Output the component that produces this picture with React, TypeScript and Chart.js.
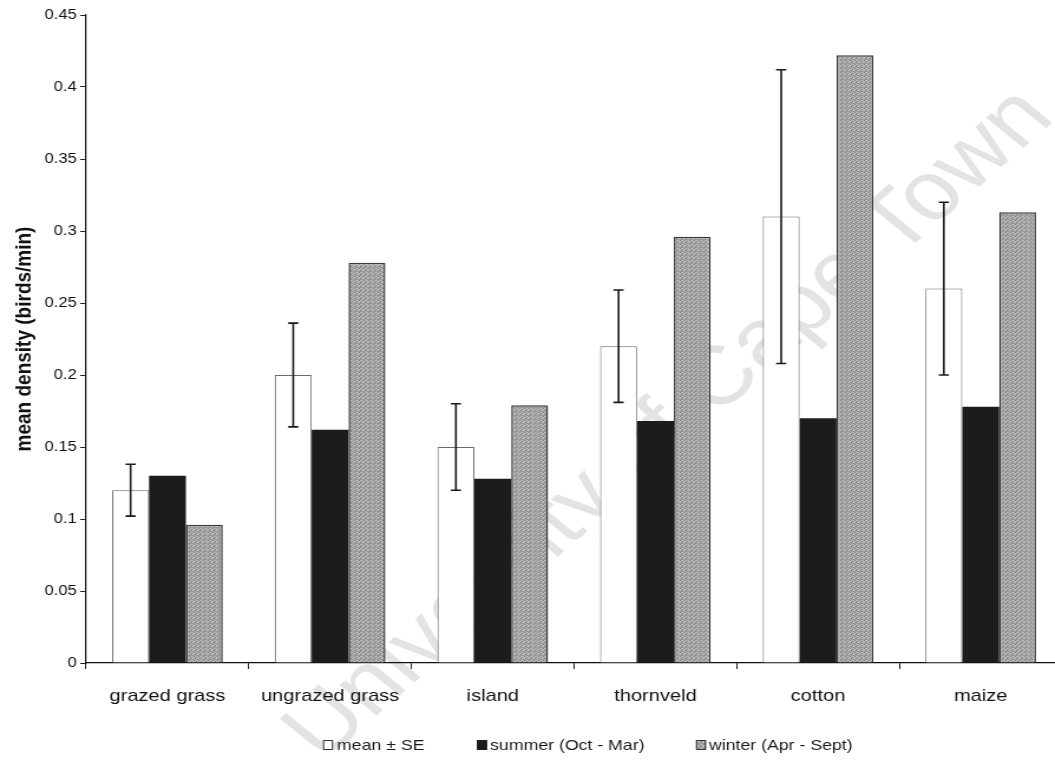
import { useEffect, useRef } from "react";
import { Chart, registerables } from "chart.js";

Chart.register(...registerables);

// Habitat categories along the x axis
const categories = ["grazed grass", "ungrazed grass", "island", "thornveld", "cotton", "maize"];

// Mean density (birds/min) with its standard error
const meanDensity = [0.12, 0.2, 0.15, 0.22, 0.31, 0.26];
const meanSE = [0.018, 0.036, 0.03, 0.039, 0.102, 0.06];

// Seasonal densities (birds/min)
const summerDensity = [0.13, 0.162, 0.128, 0.168, 0.17, 0.178];
const winterDensity = [0.096, 0.278, 0.179, 0.296, 0.422, 0.313];

const seriesLabels = ["mean \u00b1 SE", "summer (Oct - Mar)", "winter (Apr - Sept)"];
const yAxisTitle = "mean density (birds/min)";
const watermarkText = "University of Cape Town";

const yMin = 0;
const yMax = 0.45;
const yStep = 0.05;

// The figure is rendered narrow and widened with CSS, like a horizontally stretched print.
const X_STRETCH = 1.18;
const CSS_W = 1075;
const CSS_H = 762;
const CANVAS_W = Math.round(CSS_W / X_STRETCH);
const FONT = "'Liberation Sans', Arial, Helvetica, sans-serif";

function makeWinterPattern(ctx: CanvasRenderingContext2D): CanvasPattern | string {
  const pc = document.createElement("canvas");
  pc.width = 4;
  pc.height = 4;
  const p = pc.getContext("2d");
  if (!p) return "#a4a4a4";
  p.fillStyle = "#b6b6b6";
  p.fillRect(0, 0, 4, 4);
  p.fillStyle = "#7a7a7a";
  p.fillRect(0, 0, 1, 1);
  p.fillRect(2, 1, 1, 1);
  p.fillRect(1, 2, 1, 1);
  p.fillRect(3, 3, 1, 1);
  p.fillStyle = "#9a9a9a";
  p.fillRect(0, 3, 4, 1);
  return ctx.createPattern(pc, "repeat") || "#a4a4a4";
}

export default function App() {
  const canvasRef = useRef<HTMLCanvasElement | null>(null);

  useEffect(() => {
    const canvas = canvasRef.current;
    if (!canvas) return;
    const ctx = canvas.getContext("2d");
    if (!ctx) return;
    const winterFill = makeWinterPattern(ctx);

    // Faint repository watermark behind everything
    const watermark = {
      id: "watermark",
      beforeDraw(chart: any) {
        const c = chart.ctx;
        c.save();
        c.translate(568, 425);
        c.rotate((-46 * Math.PI) / 180);
        c.fillStyle = "#e3e3e3";
        c.font = `83px ${FONT}`;
        c.textAlign = "center";
        c.textBaseline = "middle";
        c.fillText(watermarkText, 0, 0);
        c.restore();
      },
    };

    // Standard-error whiskers on the mean bars
    const errorBars = {
      id: "errorBars",
      afterDatasetsDraw(chart: any) {
        const c = chart.ctx;
        const y = chart.scales.y;
        const meta = chart.getDatasetMeta(0);
        c.save();
        c.strokeStyle = "#1a1a1a";
        c.lineWidth = 1.6;
        meta.data.forEach((bar: any, i: number) => {
          const hi = y.getPixelForValue(meanDensity[i] + meanSE[i]);
          const lo = y.getPixelForValue(meanDensity[i] - meanSE[i]);
          const x = bar.x;
          const cap = 4.3;
          c.beginPath();
          c.moveTo(x, hi);
          c.lineTo(x, lo);
          c.moveTo(x - cap, hi);
          c.lineTo(x + cap, hi);
          c.moveTo(x - cap, lo);
          c.lineTo(x + cap, lo);
          c.stroke();
        });
        c.restore();
      },
    };

    // Legend row under the axis labels
    const legendRow = {
      id: "legendRow",
      afterDraw(chart: any) {
        const c = chart.ctx;
        const items = [
          { box: 273.7, text: 285.6, fill: "#ffffff", stroke: "#333333" },
          { box: 404.2, text: 415.3, fill: "#1c1c1c", stroke: "#1c1c1c" },
          { box: 589.8, text: 600.8, fill: winterFill, stroke: "#333333" },
        ];
        const cy = 745;
        c.save();
        c.font = `15px ${FONT}`;
        c.textBaseline = "middle";
        c.textAlign = "left";
        items.forEach((it, i) => {
          c.fillStyle = it.fill as any;
          c.fillRect(it.box, cy - 5, 8.5, 10);
          c.strokeStyle = it.stroke;
          c.lineWidth = 1;
          c.strokeRect(it.box + 0.5, cy - 4.5, 7.5, 9);
          c.fillStyle = "#1a1a1a";
          c.fillText(seriesLabels[i], it.text, cy + 1);
        });
        c.restore();
      },
    };

    const chart = new Chart(canvas, {
      type: "bar",
      data: {
        labels: categories,
        datasets: [
          {
            label: seriesLabels[0],
            data: meanDensity,
            backgroundColor: "#ffffff",
            borderColor: "#6a6a6a",
            borderWidth: 1,
          },
          {
            label: seriesLabels[1],
            data: summerDensity,
            backgroundColor: "#1c1c1c",
            borderColor: "#1c1c1c",
            borderWidth: 0,
          },
          {
            label: seriesLabels[2],
            data: winterDensity,
            backgroundColor: winterFill as any,
            borderColor: "#3a3a3a",
            borderWidth: 1.5,
          },
        ],
      },
      options: {
        responsive: false,
        devicePixelRatio: 1,
        animation: false,
        datasets: {
          bar: { categoryPercentage: 0.68, barPercentage: 1.0 },
        },
        layout: { padding: { top: 15, right: 11, left: 0, bottom: 0 } },
        plugins: {
          legend: { display: false },
          tooltip: { enabled: false },
        },
        scales: {
          x: {
            grid: {
              offset: true,
              drawOnChartArea: false,
              drawTicks: true,
              tickLength: 6,
              color: "#222222",
            },
            border: { color: "#111111", width: 1.2 },
            ticks: {
              color: "#111111",
              padding: 17,
              maxRotation: 0,
              font: { family: FONT, size: 17 },
            },
            afterFit: (s: any) => {
              s.height = 99;
            },
          },
          y: {
            min: yMin,
            max: yMax,
            grid: {
              drawOnChartArea: false,
              drawTicks: true,
              tickLength: 5,
              color: "#222222",
            },
            border: { color: "#111111", width: 1.2 },
            ticks: {
              stepSize: yStep,
              color: "#111111",
              padding: 3,
              font: { family: FONT, size: 14 },
              callback: (v: any) => String(Number(Number(v).toFixed(2))),
            },
            title: {
              display: true,
              text: yAxisTitle,
              color: "#111111",
              font: { family: FONT, size: 19, weight: "bold" },
              padding: { top: 9, bottom: 0 },
            },
            afterFit: (s: any) => {
              s.width = 73;
            },
          },
        },
      },
      plugins: [watermark, errorBars, legendRow],
    });

    return () => chart.destroy();
  }, []);

  return (
    <div
      style={{
        position: "fixed",
        left: 0,
        top: 0,
        width: "1055px",
        height: `${CSS_H}px`,
        overflow: "hidden",
        background: "#ffffff",
      }}
    >
      <canvas
        ref={canvasRef}
        width={CANVAS_W}
        height={CSS_H}
        style={{ width: `${CSS_W}px`, height: `${CSS_H}px`, display: "block" }}
      />
    </div>
  );
}
